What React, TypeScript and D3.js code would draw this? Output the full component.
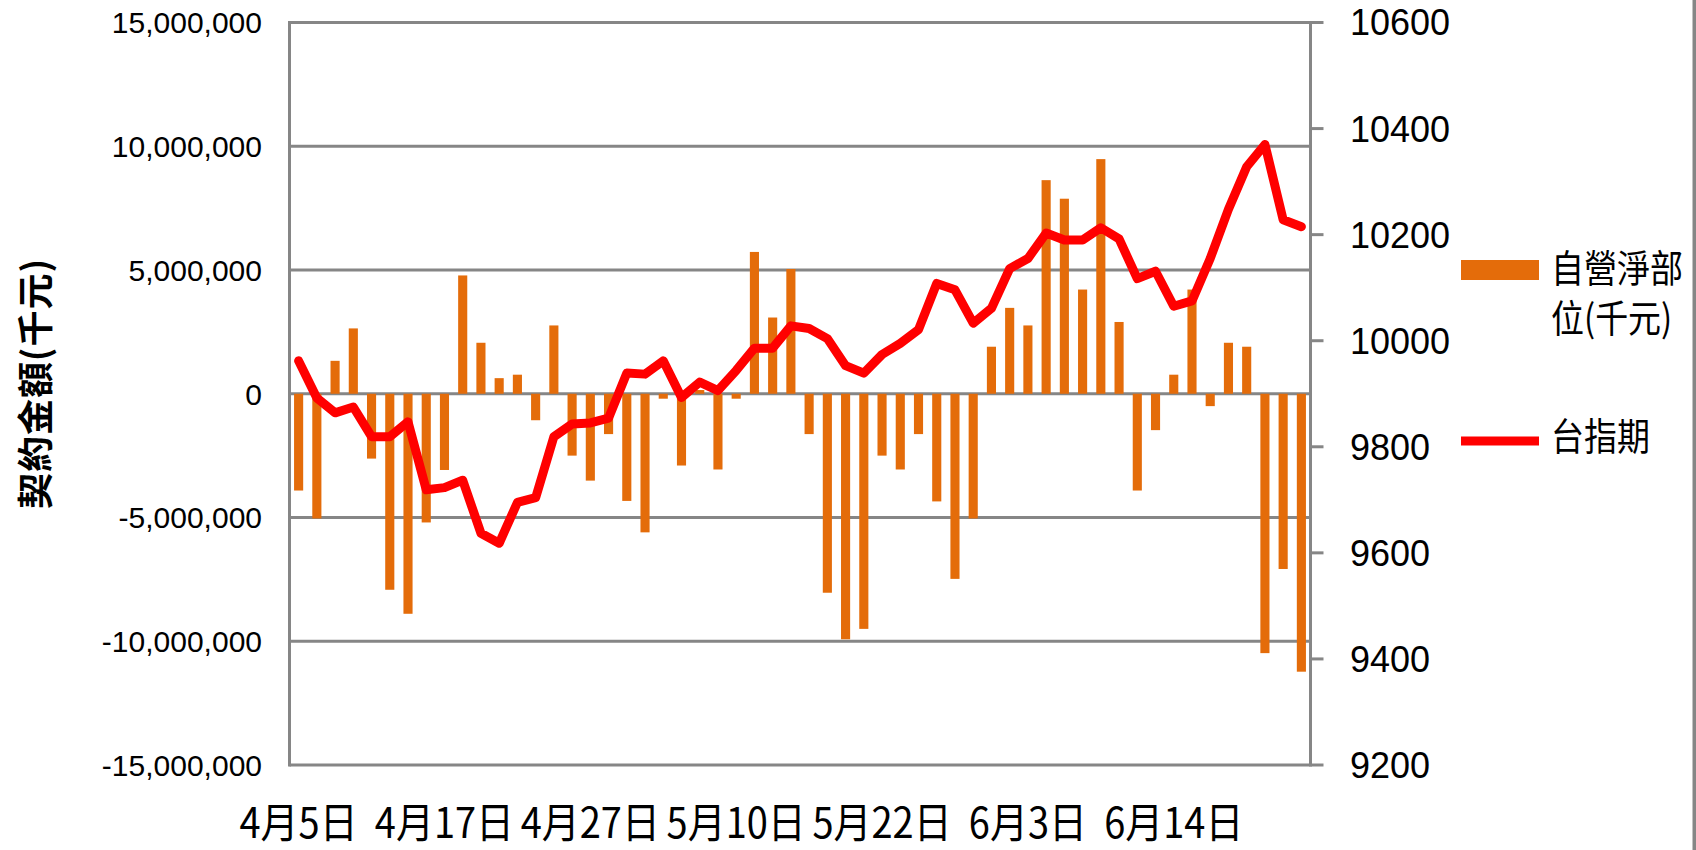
import React from "react";
import * as d3 from "d3";

// trading days, Apr 5 - Jun 23
const dates = [
  "4月5日", "4月6日", "4月7日", "4月10日", "4月11日", "4月12日", "4月13日", "4月14日",
  "4月17日", "4月18日", "4月19日", "4月20日", "4月21日", "4月24日", "4月25日", "4月26日",
  "4月27日", "4月28日", "5月2日", "5月3日", "5月4日", "5月5日", "5月8日", "5月9日",
  "5月10日", "5月11日", "5月12日", "5月15日", "5月16日", "5月17日", "5月18日", "5月19日",
  "5月22日", "5月23日", "5月24日", "5月25日", "5月26日", "5月31日", "6月1日", "6月2日",
  "6月3日", "6月5日", "6月6日", "6月7日", "6月8日", "6月9日", "6月12日", "6月13日",
  "6月14日", "6月15日", "6月16日", "6月19日", "6月20日", "6月21日", "6月22日", "6月23日",
];

// 自營淨部位 (千元)
const netPosition = [
  -3910000, -5040000, 1330000, 2640000, -2620000, -7920000, -8890000, -5200000,
  -3080000, 4780000, 2060000, 630000, 770000, -1070000, 2760000, -2500000,
  -3510000, -1630000, -4330000, -5600000, -200000, -2900000, 150000, -3060000,
  -200000, 5730000, 3080000, 5040000, -1630000, -8040000, -9920000, -9500000,
  -2500000, -3060000, -1630000, -4350000, -7480000, -5040000, 1900000, 3470000,
  2760000, 8630000, 7880000, 4210000, 9480000, 2900000, -3910000, -1470000,
  770000, 4210000, -500000, 2060000, 1900000, -10480000, -7080000, -11230000,
];

// 台指期
const futures = [
  9962, 9892, 9864, 9875, 9819, 9819, 9847, 9719,
  9723, 9737, 9637, 9618, 9695, 9704, 9819, 9843,
  9845, 9854, 9939, 9937, 9962, 9893, 9922, 9906,
  9944, 9986, 9986, 10028, 10023, 10004, 9953, 9939,
  9974, 9995, 10021, 10108, 10096, 10033, 10061, 10136,
  10155, 10203, 10190, 10190, 10213, 10192, 10117, 10131,
  10065, 10075, 10155, 10248, 10328, 10370, 10228, 10215,
];

const leftTicks = [-15000000, -10000000, -5000000, 0, 5000000, 10000000, 15000000];
const rightTicks = [9200, 9400, 9600, 9800, 10000, 10200, 10400, 10600];
const labelEvery = 8;

const W = 1696;
const H = 850;
const plot = { left: 289.5, right: 1310.5, top: 22.5, bottom: 765 };

const GRID = "#868686";
const BAR = "#E46C0A";
const LINE = "#FF0000";
const CJK = "'Noto Sans CJK TC', 'Noto Sans CJK SC', sans-serif";
const NUM = "'Liberation Sans', Arial, sans-serif";

const App = () => {
  const x = d3.scaleBand<string>()
    .domain(dates)
    .range([plot.left, plot.right])
    .paddingInner(0.5)
    .paddingOuter(0.25);
  const bw = x.bandwidth();
  const cx = (i: number) => (x(dates[i]) || 0) + bw / 2;

  const yL = d3.scaleLinear().domain([-15000000, 15000000]).range([plot.bottom, plot.top]);
  const yR = d3.scaleLinear().domain([9200, 10600]).range([plot.bottom, plot.top]);

  // excel style: plain hyphen for negatives
  const fmt = (v: number) => d3.format(",")(v).replace("\u2212", "-");

  const linePath = d3.line<number>()
    .x((_, i) => cx(i))
    .y((d) => yR(d))(futures) || "";

  return (
    <svg
      width={W}
      height={H}
      style={{ position: "absolute", left: 0, top: 0, background: "#fff" }}
    >
      {/* outer border, only right edge shows */}
      <rect x={1692.5} y={0} width={3.5} height={H} fill={GRID} />

      {/* gridlines */}
      {leftTicks.map((t) => (
        <line key={t} x1={plot.left} x2={plot.right} y1={yL(t)} y2={yL(t)} stroke={GRID} strokeWidth={3} />
      ))}

      {/* bars */}
      {netPosition.map((v, i) => (
        <rect
          key={i}
          x={x(dates[i])}
          width={bw}
          y={yL(Math.max(0, v))}
          height={Math.abs(yL(v) - yL(0))}
          fill={BAR}
        />
      ))}

      {/* left axis */}
      <line x1={plot.left} x2={plot.left} y1={plot.top - 1.5} y2={plot.bottom + 1.5} stroke={GRID} strokeWidth={3} />
      {leftTicks.map((t) => (
        <text
          key={t}
          x={262}
          y={yL(t)}
          dy="0.36em"
          textAnchor="end"
          fontFamily={NUM}
          fontSize={30}
          fill="#000"
        >
          {fmt(t)}
        </text>
      ))}

      {/* right axis */}
      <line x1={plot.right} x2={plot.right} y1={plot.top - 1.5} y2={plot.bottom + 1.5} stroke={GRID} strokeWidth={3} />
      {rightTicks.map((t) => (
        <g key={t}>
          <line x1={plot.right} x2={plot.right + 13} y1={yR(t)} y2={yR(t)} stroke={GRID} strokeWidth={3} />
          <text
            x={1350}
            y={yR(t)}
            dy="0.36em"
            fontFamily={NUM}
            fontSize={36}
            fill="#000"
          >
            {t}
          </text>
        </g>
      ))}

      {/* futures line */}
      <path d={linePath} fill="none" stroke={LINE} strokeWidth={9} strokeLinejoin="round" strokeLinecap="round" />

      {/* category labels */}
      {dates.map((d, i) =>
        i % labelEvery === 0 ? (
          <g key={d} transform={`translate(${cx(i)},823) scale(1,1.1)`}>
            <text textAnchor="middle" dy="0.36em" fontFamily={CJK} fontSize={38} fill="#000">
              {d}
            </text>
          </g>
        ) : null
      )}

      {/* y axis title */}
      <g transform="translate(36,384) rotate(-90)">
        <text
          textAnchor="middle"
          dy="0.36em"
          fontFamily={CJK}
          fontWeight="bold"
          fontSize={36}
          textLength={250}
          lengthAdjust="spacing"
          fill="#000"
        >
          契約金額(千元)
        </text>
      </g>

      {/* legend */}
      <rect x={1461} y={260} width={78} height={20} fill={BAR} />
      <g transform="translate(1551,268) scale(1,1.15)">
        <text dy="0.36em" fontFamily={CJK} fontSize={33} fill="#000">自營淨部</text>
      </g>
      <g transform="translate(1551,318) scale(1,1.15)">
        <text dy="0.36em" fontFamily={CJK} fontSize={33} fill="#000">位(千元)</text>
      </g>
      <line x1={1461} x2={1539} y1={441} y2={441} stroke={LINE} strokeWidth={9} />
      <g transform="translate(1551,436) scale(1,1.15)">
        <text dy="0.36em" fontFamily={CJK} fontSize={33} fill="#000">台指期</text>
      </g>
    </svg>
  );
};

export default App;
